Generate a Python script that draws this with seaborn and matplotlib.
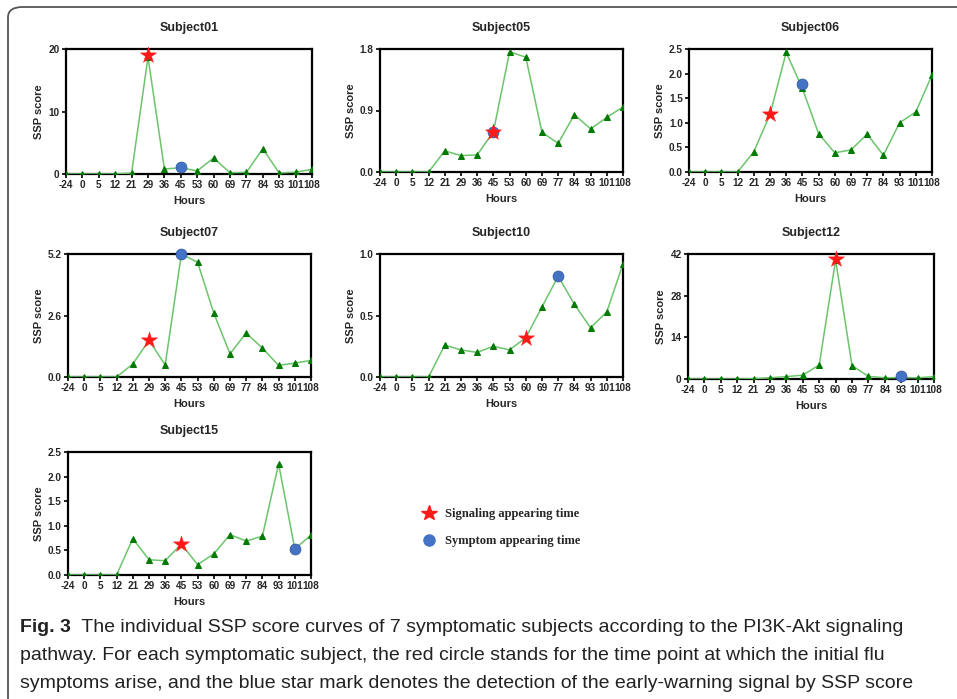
import numpy as np
import pandas as pd
import matplotlib
matplotlib.use("Agg")
import matplotlib.pyplot as plt
from matplotlib import font_manager
from matplotlib.patches import FancyBboxPatch
from matplotlib.lines import Line2D
import seaborn as sns

# ---------------- data ----------------
hours = ["-24", "0", "5", "12", "21", "29", "36", "45", "53", "60", "69", "77", "84", "93", "101", "108"]

subjects = ["Subject01", "Subject05", "Subject06", "Subject07", "Subject10", "Subject12", "Subject15"]

s01 = [0, 0, 0, 0, 0.16, 18.7, 0.8, 1.0, 0.5, 2.56, 0.2, 0.27, 4.05, 0.16, 0.3, 0.75]
s05 = [0, 0, 0, 0, 0.31, 0.24, 0.25, 0.59, 1.76, 1.68, 0.58, 0.42, 0.84, 0.63, 0.80, 0.95]
s06 = [0, 0, 0, 0, 0.41, 1.17, 2.43, 1.70, 0.78, 0.39, 0.45, 0.77, 0.34, 1.0, 1.22, 1.97]
s07 = [0, 0, 0, 0, 0.55, 1.55, 0.51, 5.2, 4.85, 2.7, 0.98, 1.86, 1.22, 0.49, 0.59, 0.70]
s10 = [0, 0, 0, 0, 0.26, 0.22, 0.20, 0.25, 0.22, 0.32, 0.57, 0.82, 0.59, 0.40, 0.53, 0.92]
s12 = [0, 0, 0, 0, 0.1, 0.4, 0.8, 1.3, 4.7, 40.0, 4.5, 0.9, 0.4, 0.5, 0.4, 0.8]
s15 = [0, 0, 0, 0, 0.74, 0.31, 0.29, 0.63, 0.21, 0.43, 0.82, 0.69, 0.79, 2.26, 0.53, 0.81]
series = [s01, s05, s06, s07, s10, s12, s15]

y_max = [20, 1.8, 2.5, 5.2, 1.0, 42, 2.5]
y_ticks = [[0, 10, 20], [0.0, 0.9, 1.8], [0.0, 0.5, 1.0, 1.5, 2.0, 2.5], [0.0, 2.6, 5.2],
           [0.0, 0.5, 1.0], [0, 14, 28, 42], [0.0, 0.5, 1.0, 1.5, 2.0, 2.5]]
y_fmt = ["{:.0f}", "{:.1f}", "{:.1f}", "{:.1f}", "{:.1f}", "{:.0f}", "{:.1f}"]

# signaling (star) and symptom (circle) times / values
star_hour = ["29", "45", "29", "29", "60", "60", "45"]
star_val = [19.1, 0.59, 1.17, 1.57, 0.32, 40.4, 0.63]
circ_hour = ["45", "45", "45", "45", "77", "93", "101"]
circ_val = [1.17, 0.59, 1.78, 5.2, 0.82, 1.0, 0.53]

legend_labels = ["Signaling appearing time", "Symptom appearing time"]

caption_bold = "Fig. 3"
caption_lines = [
    "  The individual SSP score curves of 7 symptomatic subjects according to the PI3K-Akt signaling",
    "pathway. For each symptomatic subject, the red circle stands for the time point at which the initial flu",
    "symptoms arise, and the blue star mark denotes the detection of the early-warning signal by SSP score",
]

# ---------------- style ----------------
sns.set_theme(style="white")
avail = {f.name for f in font_manager.fontManager.ttflist}
base_font = "Liberation Sans" if "Liberation Sans" in avail else "DejaVu Sans"
cap_font = "Liberation Sans Narrow" if "Liberation Sans Narrow" in avail else base_font
serif_font = "Liberation Serif" if "Liberation Serif" in avail else "DejaVu Serif"
plt.rcParams["font.family"] = [base_font, "DejaVu Sans"]

W, H = 957, 699
fig = plt.figure(figsize=(W / 100, H / 100), dpi=100)

# axes boxes in pixels: left, top, right, bottom
boxes = [
    (66, 49, 312, 174),
    (380, 49, 623, 172),
    (689, 49, 932, 172),
    (68, 254, 311, 377),
    (380, 254, 623, 377),
    (688, 254, 934, 379),
    (68, 452, 311, 575),
]

line_col = "#6cc46c"
mark_col = "#007a00"
star_col = "#ff1a1a"
circ_col = "#4472c4"

for i, name in enumerate(subjects):
    l, t, r, b = boxes[i]
    ax = fig.add_axes([l / W, 1 - b / H, (r - l) / W, (b - t) / H])
    df = pd.DataFrame({"Hours": hours, "SSP": series[i]})
    sns.lineplot(data=df, x="Hours", y="SSP", ax=ax, sort=False, color=line_col,
                 linewidth=1.1, marker="^", markersize=4.2, mfc=mark_col, mec=mark_col,
                 zorder=3)
    sdf = pd.DataFrame({"Hours": [star_hour[i]], "SSP": [star_val[i]]})
    cdf = pd.DataFrame({"Hours": [circ_hour[i]], "SSP": [circ_val[i]]})
    sns.scatterplot(data=cdf, x="Hours", y="SSP", ax=ax, marker="o", s=62,
                    color=circ_col, edgecolor="#2f5597", linewidth=0.5, zorder=5, clip_on=False)
    sns.scatterplot(data=sdf, x="Hours", y="SSP", ax=ax, marker="*", s=150,
                    color=star_col, edgecolor=star_col, linewidth=0.3, zorder=6, clip_on=False)
    ax.set_xlim(0, len(hours) - 1)
    ax.set_ylim(0, y_max[i])
    ax.set_yticks(y_ticks[i])
    ax.set_yticklabels([y_fmt[i].format(v) for v in y_ticks[i]])
    ax.set_xticks(range(len(hours)))
    ax.set_xticklabels(hours)
    for lab in ax.get_xticklabels() + ax.get_yticklabels():
        lab.set_fontweight("bold")
        lab.set_fontsize(7.2)
    ax.tick_params(axis="both", which="major", direction="out", length=3, width=1.2,
                   color="black", pad=1.5, bottom=True, left=True)
    for sp in ax.spines.values():
        sp.set_visible(True)
        sp.set_color("black")
        sp.set_linewidth(1.6)
    ax.set_xlabel("Hours", fontsize=8, fontweight="bold", labelpad=4)
    ax.set_ylabel("SSP score", fontsize=8, fontweight="bold", labelpad=3)
    ax.set_title(name, fontsize=9, fontweight="bold", pad=13)
    ax.grid(False)
    ax.set_facecolor("white")

# legend
handles = [
    Line2D([], [], linestyle="none", marker="*", markersize=11.5, color=star_col, mec=star_col),
    Line2D([], [], linestyle="none", marker="o", markersize=8, color=circ_col, mec=circ_col),
]
fig.legend(handles, legend_labels, loc="upper left", bbox_to_anchor=(410 / W, 1 - 497 / H),
           frameon=False, handletextpad=0.7, labelspacing=1.2, handlelength=1.2,
           prop={"family": serif_font, "weight": "bold", "size": 9})

# caption
y0 = 627
fig.text(20 / W, 1 - y0 / H, caption_bold, fontsize=14, fontweight="bold",
         family=[cap_font, "DejaVu Sans"], va="center", ha="left", color="#222222")
tb = fig.text(0, 0, caption_bold, fontsize=14, fontweight="bold", family=[cap_font, "DejaVu Sans"])
fig.canvas.draw()
bw = tb.get_window_extent().width
tb.remove()
fig.text((20 + bw) / W, 1 - y0 / H, caption_lines[0], fontsize=14,
         family=[cap_font, "DejaVu Sans"], va="center", ha="left", color="#222222")
for k, line in enumerate(caption_lines[1:]):
    fig.text(20 / W, 1 - (y0 + 28 * (k + 1)) / H, line, fontsize=14,
             family=[cap_font, "DejaVu Sans"], va="center", ha="left", color="#222222")

# outer rounded frame
frame = FancyBboxPatch((8 / W, -20 / H), 1.2, (H - 7 + 20) / H,
                       boxstyle="round,pad=0,rounding_size=0.015",
                       transform=fig.transFigure, fill=False, edgecolor="#555555",
                       linewidth=1.3, clip_on=False)
fig.patches.append(frame)

fig.savefig("out.png", dpi=100)
